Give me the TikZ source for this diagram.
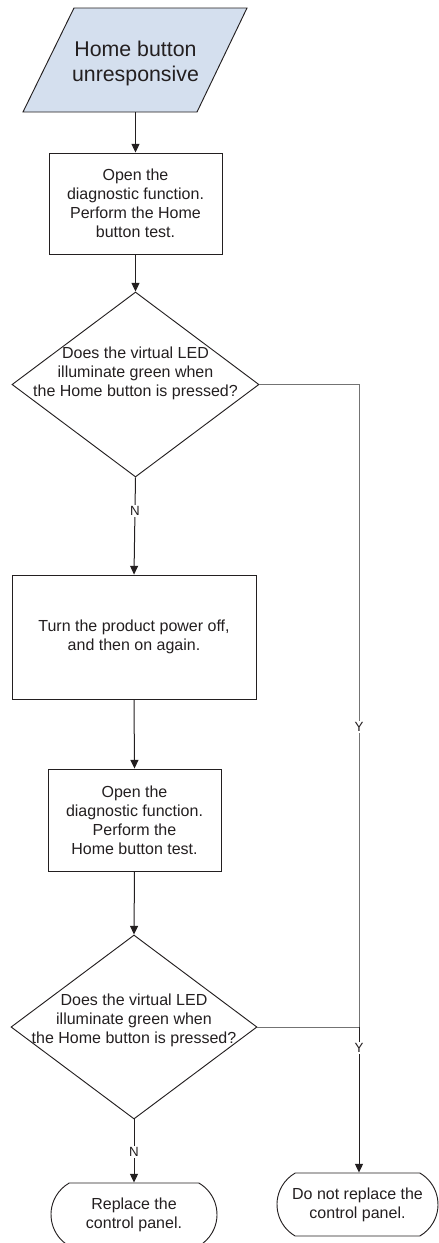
\documentclass[tikz,border=0pt]{standalone}
\usepackage{fontspec}
\setmainfont{Liberation Sans}
\usepackage{tikz}
\usetikzlibrary{arrows.meta, shapes.geometric, shapes.misc}
\definecolor{flowline}{RGB}{35,31,32}
\definecolor{yesline}{RGB}{115,115,115}
\definecolor{startblue}{RGB}{212,223,238}

\begin{document}
\begin{tikzpicture}[x=0.75pt, y=-0.75pt, >={Triangle[length=6.5pt, width=6pt]},
    every node/.style={text=flowline},
    starttext/.style={inner sep=0pt, align=center, font=\fontsize{16}{18.75}\selectfont},
    stepbox/.style={rectangle, draw=flowline, line width=0.7pt, inner sep=0pt,
      align=center, font=\fontsize{12}{14.25}\selectfont},
    decision/.style={diamond, draw=flowline, line width=0.7pt, inner sep=0pt},
    question/.style={inner sep=0pt, align=center, font=\fontsize{12}{14.25}\selectfont},
    endbox/.style={rounded rectangle, rounded rectangle arc length=120, draw=flowline,
      line width=0.7pt, inner sep=0pt, minimum height=47.25pt, align=center,
      font=\fontsize{12}{14.25}\selectfont},
    flow/.style={->, draw=flowline, line width=0.75pt},
    yesflow/.style={draw=yesline, line width=0.6pt},
    answer/.style={fill=white, inner sep=1pt, font=\fontsize{10}{12}\selectfont}]
    \useasboundingbox (0,0) rectangle (439,1243);

    % Start
    \filldraw[draw=flowline, fill=startblue, line width=0.7pt]
      (74,8) -- (247,8) -- (197,112) -- (23,112) -- cycle;
    \node[starttext] (start) at (135.5,63) {Home button\\unresponsive};
    \coordinate (startbottom) at (135.5,112);

    % First test and question
    \node[stepbox, minimum width=129.75pt, minimum height=75.75pt] (test1) at (135.5,203.5)
      {Open the\\diagnostic function.\\Perform the Home\\button test.};
    \node[decision, minimum width=185.25pt, minimum height=138.75pt] (ask1) at (135.5,384.5) {};
    \node[question] (ask1text) at (135.5,373)
      {Does the virtual LED\\illuminate green when\\the Home button is pressed?};

    % Power cycle and second test
    \node[stepbox, minimum width=183pt, minimum height=93pt] (power) at (134,637)
      {Turn the product power off,\\and then on again.};
    \node[stepbox, minimum width=129.75pt, minimum height=76.5pt] (test2) at (134.5,820)
      {Open the\\diagnostic function.\\Perform the\\Home button test.};
    \node[decision, minimum width=184.5pt, minimum height=138pt] (ask2) at (134,1027) {};
    \node[question] (ask2text) at (134,1020.5)
      {Does the virtual LED\\illuminate green when\\the Home button is pressed?};

    % End boxes
    \node[endbox, minimum width=124.5pt] (replace) at (134,1214.5) {Replace the\\control panel.};
    \node[endbox, minimum width=120.75pt] (keep) at (357.5,1204.5) {Do not replace the\\control panel.};

    % Connectors
    \coordinate (yjoin) at (359,1027);
    \draw[flow] (startbottom) -- (test1.north);
    \draw[flow] (test1.south) -- (ask1.north);
    \draw[flow] (ask1.south) -- (power.north);
    \draw[flow] (power.south) -- (test2.north);
    \draw[flow] (test2.south) -- (ask2.north);
    \draw[flow] (ask2.south) -- (replace.north);
    \draw[yesflow] (ask1.east) -| (yjoin);
    \draw[yesflow] (ask2.east) -- (yjoin);
    \draw[flow] (yjoin) -- (yjoin |- keep.north);

    % Answer labels
    \node[answer] (no1) at (135,511) {N};
    \node[answer] (yes1) at (359,727) {Y};
    \node[answer] (yes2) at (359,1048) {Y};
    \node[answer] (no2) at (134,1152) {N};
\end{tikzpicture}
\end{document}
